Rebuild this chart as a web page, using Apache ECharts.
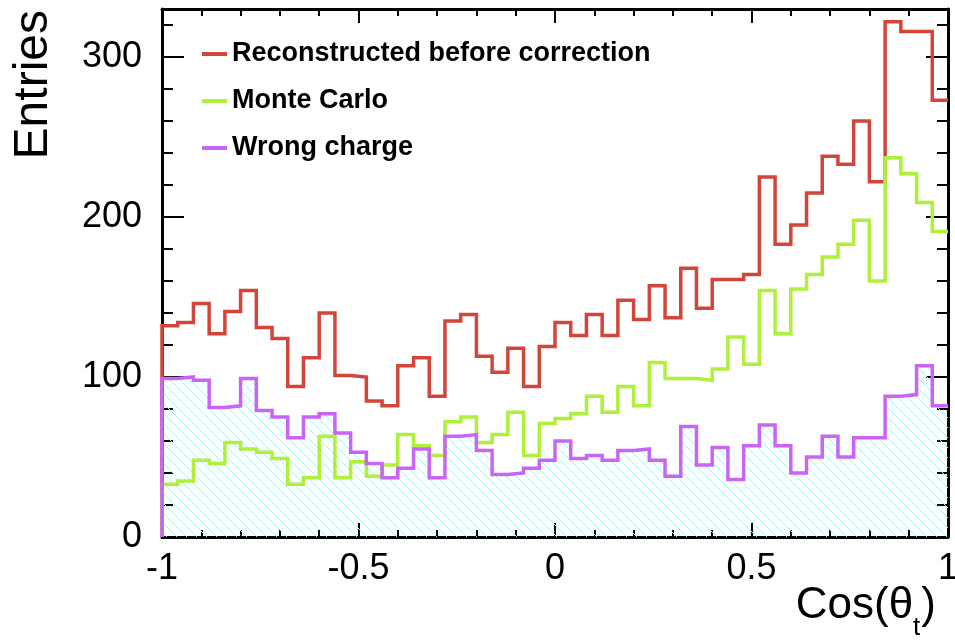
<!DOCTYPE html>
<html>
<head>
<meta charset="utf-8">
<script src="https://cdn.jsdelivr.net/npm/echarts@6/dist/echarts.min.js"></script>
<style>
  html, body { margin: 0; padding: 0; background: #fff; }
  #chart { width: 955px; height: 640px; }
</style>
</head>
<body>
<div id="chart"></div>
<script>
// Histogram binning: 50 bins of width 0.04 over cos(theta_t) in [-1, 1]
const binLow = -1;
const binWidth = 0.04;

// Bin contents (entries per bin)
const reconstructed = [
  132, 134, 146, 127, 141, 154, 131, 124, 94, 112,
  140, 101, 100, 85, 82, 107, 112, 88, 135, 139,
  113, 103, 118, 94, 119, 134, 126, 139, 126, 148,
  136, 157, 137, 168, 143, 161, 161, 164, 225, 183,
  195, 215, 238, 233, 260, 222, 322, 316, 316, 273
];
const monteCarlo = [
  33, 35, 48, 46, 59, 55, 53, 49, 33, 37,
  63, 37, 47, 38, 45, 64, 57, 51, 72, 75,
  59, 64, 78, 51, 71, 74, 77, 88, 78, 94,
  82, 109, 99, 99, 98, 105, 125, 108, 154, 127,
  155, 164, 175, 183, 198, 160, 237, 227, 209, 191
];
const wrongCharge = [
  99, 100, 98, 81, 82, 99, 79, 75, 62, 75,
  77, 65, 53, 46, 37, 43, 55, 37, 63, 64,
  54, 39, 40, 43, 48, 60, 49, 51, 48, 54,
  55, 48, 38, 69, 45, 56, 36, 57, 70, 57,
  40, 50, 63, 50, 62, 62, 88, 89, 107, 82
];

const seriesNames = ['Reconstructed before correction', 'Monte Carlo', 'Wrong charge'];
const seriesColors = ['#d2453a', '#aef03a', '#c865f7'];

const FONT = '"Liberation Sans", Arial, Helvetica, sans-serif';

// Turn bin contents into step-outline points: rises from 0 at the low edge,
// one point per bin low edge, then runs to the high edge.
function histPoints(values) {
  const pts = [[binLow, 0]];
  values.forEach((v, i) => pts.push([binLow + i * binWidth, v]));
  const hi = binLow + values.length * binWidth;
  pts.push([hi, values[values.length - 1]]);
  return pts;
}

// Diagonal hatch tile for the filled histogram
function hatchTile() {
  const c = document.createElement('canvas');
  c.width = 10; c.height = 10;
  const g = c.getContext('2d');
  g.strokeStyle = '#a9eef2';
  g.lineWidth = 1;
  g.beginPath();
  g.moveTo(-1, -1); g.lineTo(11, 11);
  g.moveTo(-1, 9); g.lineTo(1, 11);
  g.moveTo(9, -1); g.lineTo(11, 1);
  g.stroke();
  return c;
}

const frame = { show: true, onZero: false, lineStyle: { color: '#000', width: 3 } };
const noLine = { show: false, onZero: false };
const tickStyle = { color: '#000', width: 2 };

const chart = echarts.init(document.getElementById('chart'), null, { renderer: 'canvas' });

const stepLine = (name, values, color, z) => ({
  name: name,
  type: 'line',
  step: 'end',
  data: histPoints(values),
  showSymbol: false,
  symbol: 'none',
  animation: false,
  clip: true,
  z: z,
  lineStyle: { color: color, width: 3.5, cap: 'butt', join: 'miter' },
  itemStyle: { color: color }
});

chart.setOption({
  animation: false,
  backgroundColor: '#fff',
  grid: { left: 162, right: 7, top: 9, bottom: 103, containLabel: false, outerBoundsMode: 'none' },
  xAxis: [
    {
      type: 'value', position: 'bottom', min: -1, max: 1, interval: 0.5,
      axisLine: frame,
      axisTick: { show: true, inside: true, length: 14, lineStyle: tickStyle },
      minorTick: { show: true, splitNumber: 5, length: 7, lineStyle: tickStyle },
      axisLabel: { show: true, margin: 14, color: '#000', fontSize: 36, fontFamily: FONT },
      splitLine: { show: false }
    },
    {
      type: 'value', position: 'top', min: -1, max: 1, interval: 0.5,
      axisLine: frame,
      axisTick: { show: true, inside: true, length: 14, lineStyle: tickStyle },
      minorTick: { show: true, splitNumber: 5, length: 7, lineStyle: tickStyle },
      axisLabel: { show: false },
      splitLine: { show: false }
    }
  ],
  yAxis: [
    {
      type: 'value', position: 'left', min: 0, max: 330, interval: 100,
      axisLine: frame,
      axisTick: { show: true, inside: true, length: 22, lineStyle: tickStyle },
      axisLabel: { show: true, margin: 20, showMaxLabel: false, color: '#000', fontSize: 36, fontFamily: FONT },
      splitLine: { show: false }
    },
    {
      type: 'value', position: 'left', min: 0, max: 330, interval: 20,
      axisLine: noLine,
      axisTick: { show: true, inside: true, length: 11, lineStyle: tickStyle },
      axisLabel: { show: false },
      splitLine: { show: false }
    },
    {
      type: 'value', position: 'right', min: 0, max: 330, interval: 100,
      axisLine: frame,
      axisTick: { show: true, inside: true, length: 22, lineStyle: tickStyle },
      axisLabel: { show: false },
      splitLine: { show: false }
    },
    {
      type: 'value', position: 'right', min: 0, max: 330, interval: 20,
      axisLine: noLine,
      axisTick: { show: true, inside: true, length: 11, lineStyle: tickStyle },
      axisLabel: { show: false },
      splitLine: { show: false }
    }
  ],
  legend: {
    data: seriesNames,
    orient: 'vertical',
    left: 202,
    top: 39,
    padding: 0,
    itemGap: 17,
    itemWidth: 25,
    itemHeight: 4,
    icon: 'rect',
    selectedMode: false,
    textStyle: { color: '#000', fontSize: 27, fontWeight: 'bold', fontFamily: FONT, lineHeight: 30 }
  },
  series: [
    {
      name: 'hatch',
      type: 'line',
      step: 'end',
      data: histPoints(wrongCharge),
      showSymbol: false,
      symbol: 'none',
      z: 1,
      lineStyle: { width: 0, opacity: 0 },
      areaStyle: { color: { image: hatchTile(), repeat: 'repeat' }, opacity: 1 }
    },
    stepLine(seriesNames[0], reconstructed, seriesColors[0], 2),
    stepLine(seriesNames[1], monteCarlo, seriesColors[1], 3),
    stepLine(seriesNames[2], wrongCharge, seriesColors[2], 4)
  ],
  graphic: [
    {
      type: 'text', x: 34, y: 10, rotation: Math.PI / 2,
      style: { text: 'Entries', fill: '#000', font: '48px ' + FONT, align: 'right', verticalAlign: 'middle' }
    },
    {
      type: 'text', x: 936, y: 584,
      style: {
        text: '{m|Cos(θ}{s|t}{m|)}',
        align: 'right', verticalAlign: 'top', fill: '#000',
        rich: {
          m: { fontSize: 44, fontFamily: FONT, lineHeight: 48, verticalAlign: 'top', fill: '#000' },
          s: { fontSize: 26, fontFamily: FONT, lineHeight: 26, verticalAlign: 'top', padding: [31, 1, 0, 0], fill: '#000' }
        }
      }
    }
  ]
});
</script>
</body>
</html>
